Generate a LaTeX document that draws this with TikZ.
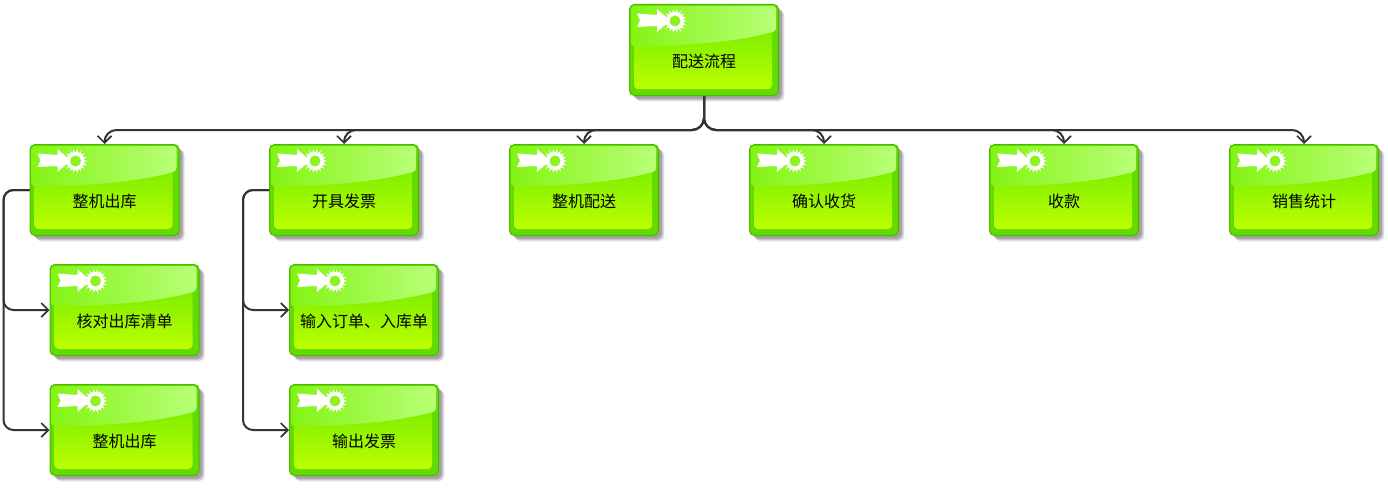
\documentclass[tikz,border=0pt]{standalone}
\usepackage{fontspec}
\newfontfamily\cjk{Noto Sans CJK SC}
\usetikzlibrary{arrows.meta,calc,shadows}
\definecolor{edgegreen}{HTML}{4DB800}
\definecolor{basegreen}{HTML}{62DC00}
\definecolor{lineink}{HTML}{333333}
\definecolor{facetop}{HTML}{66E800}
\definecolor{facemid}{HTML}{92FF00}
\definecolor{facebot}{HTML}{BCFF00}
\definecolor{glossl}{HTML}{84F414}
\definecolor{glossr}{HTML}{B8FF78}
\definecolor{holegreen}{HTML}{90F020}
\tikzset{
  boxshell/.style={draw=edgegreen,line width=1pt,rounded corners=5pt,fill=basegreen,
    minimum width=149pt,minimum height=91pt,inner sep=0pt,
    general shadow={shadow xshift=6pt,shadow yshift=-6pt,fill=black,opacity=.07},
    general shadow={shadow xshift=5pt,shadow yshift=-5pt,fill=black,opacity=.10},
    general shadow={shadow xshift=4pt,shadow yshift=-4pt,fill=black,opacity=.12},
    general shadow={shadow xshift=3pt,shadow yshift=-3pt,fill=black,opacity=.12}},
  boxlabel/.style={inner sep=0pt,font=\cjk\fontsize{16}{16}\selectfont,text=black},
  conn/.style={draw=lineink,line width=2pt,-{Straight Barb[length=7pt,width=14pt,line width=1.7pt]}},
  fork/.style={conn,rounded corners=12pt},
  side/.style={conn,rounded corners=10pt}
}
\newcommand{\taskbox}[4]{%
  \node[boxshell] (#1) at (#2,#3) {};
  \begin{scope}[shift={(#1.north west)}]
    \path[rounded corners=4pt,top color=facetop,middle color=facemid,bottom color=facebot] (5,3) rectangle (143,85);
    \path[left color=glossl,right color=glossr,rounded corners=3pt] (2,2) -- (147,2) -- (147,27)
       .. controls (105,39) and (50,42) .. (2,42) -- cycle;
    \begin{scope}[shift={(46,17)}]
      \foreach \a in {0,20,...,340}
        \fill[white] (\a-8:8pt) -- (\a:12pt) -- (\a+8:8pt) -- cycle;
      \fill[white] (0,0) circle[radius=9pt];
      \fill[holegreen] (0,0) circle[radius=5.5pt];
    \end{scope}
    \fill[white] (8,9.5) -- (28,11) -- (28,5) -- (41,16.5) -- (28,28) -- (28,22) -- (8,23) -- (11,16.5) -- cycle;
  \end{scope}
  \node[boxlabel] (#1-t) at ($(#1.center)+(0,11)$) {#4};
}
\begin{document}
\begin{tikzpicture}[x=1pt,y=-1pt]
\useasboundingbox[fill=white] (0,0) rectangle (1388,487);
\taskbox{root}{704}{50}{配送流程}
\taskbox{a}{104.5}{190}{整机出库}
\taskbox{b}{344}{190}{开具发票}
\taskbox{c}{584}{190}{整机配送}
\taskbox{d}{824}{190}{确认收货}
\taskbox{e}{1064}{190}{收款}
\taskbox{f}{1304}{190}{销售统计}
\taskbox{a1}{124.5}{310}{核对出库清单}
\taskbox{a2}{124.5}{430}{整机出库}
\taskbox{b1}{364}{310}{输入订单、入库单}
\taskbox{b2}{364}{430}{输出发票}
\coordinate (bus) at ($(root.south)+(0,34)$);
\foreach \t in {a,b,c,d,e,f}
  \draw[fork] (root.south) -- (bus) -| (\t.north);
\coordinate (sa) at ($(a.west)+(-26,0)$);
\coordinate (sb) at ($(b.west)+(-26,0)$);
\foreach \t in {a1,a2}
  \draw[side] (a.west) -- (sa) |- (\t.west);
\foreach \t in {b1,b2}
  \draw[side] (b.west) -- (sb) |- (\t.west);
\end{tikzpicture}
\end{document}
